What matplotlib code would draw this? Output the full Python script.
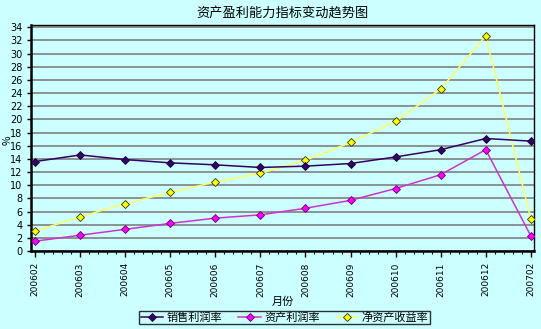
import matplotlib
matplotlib.use('Agg')
import matplotlib.pyplot as plt
from matplotlib.ticker import MultipleLocator
import numpy as np

plt.rcParams['font.family'] = ['Noto Sans CJK SC', 'DejaVu Sans']

months = ['200602', '200603', '200604', '200605', '200606', '200607',
          '200608', '200609', '200610', '200611', '200612', '200702']
sales_margin = [13.6, 14.6, 13.9, 13.4, 13.1, 12.7, 12.9, 13.3, 14.3, 15.4, 17.1, 16.7]
asset_margin = [1.5, 2.4, 3.3, 4.2, 5.0, 5.5, 6.5, 7.7, 9.5, 11.6, 15.4, 2.3]
roe = [3.0, 5.2, 7.2, 8.9, 10.5, 11.8, 13.8, 16.5, 19.7, 24.6, 32.7, 4.9]
series_names = ['销售利润率', '资产利润率', '净资产收益率']

bg = '#CCFFFF'
fig = plt.figure(figsize=(5.41, 3.29), dpi=100, facecolor=bg)
ax = fig.add_axes([0.0573, 0.237, 0.9297, 0.688], facecolor=bg)

x = np.arange(len(months))
ax.plot(x, sales_margin, color='#330066', lw=1.1, marker='D', ms=4.3,
        mfc='#330066', mec='#1a0033', mew=0.6, label=series_names[0], zorder=4)
ax.plot(x, asset_margin, color='#CC33CC', lw=1.1, marker='D', ms=4.3,
        mfc='#FF00FF', mec='#660066', mew=0.6, label=series_names[1], zorder=4)
ax.plot(x, roe, color='#FFFF66', lw=1.1, marker='D', ms=4.3,
        mfc='#FFFF00', mec='#333300', mew=0.6, label=series_names[2], zorder=3)

ax.set_xlim(-0.09, 11.07)
ax.set_ylim(0, 34.4)
ax.set_yticks(np.arange(0, 35, 2))
ax.yaxis.grid(True, color='#808080', lw=1.2)
ax.set_axisbelow(True)
ax.set_xticks(x)
ax.set_xticklabels(months, rotation=90, fontsize=6.5, family='DejaVu Sans')
ax.xaxis.set_minor_locator(MultipleLocator(0.2))
ax.tick_params(axis='x', which='major', length=4, width=1, pad=4, direction='out')
ax.tick_params(axis='x', which='minor', length=2.5, width=0.8, direction='out')
ax.tick_params(axis='y', length=3, width=1, labelsize=7, pad=3)
for lab in ax.get_yticklabels():
    lab.set_family('DejaVu Sans')

for side in ['left', 'bottom']:
    ax.spines[side].set_linewidth(1.8)
for side in ['top', 'right']:
    ax.spines[side].set_linewidth(1.0)

ax.set_xlabel('月份', fontsize=8, labelpad=0)
ax.set_ylabel('%', fontsize=7.5)
ax.yaxis.set_label_coords(-0.036, 0.49)
fig.text(0.523, 0.96, '资产盈利能力指标变动趋势图', ha='center', va='center', fontsize=9.5)

leg = fig.legend(loc='center', bbox_to_anchor=(0.526, 0.036), ncol=3,
                 fontsize=8, frameon=True, fancybox=False, edgecolor='black',
                 facecolor=bg, handlelength=2.0, columnspacing=1.5,
                 borderpad=0.1, handletextpad=0.3, markerscale=0.9)
leg.get_frame().set_linewidth(1.0)

fig.savefig('out.png', dpi=100, facecolor=bg)
